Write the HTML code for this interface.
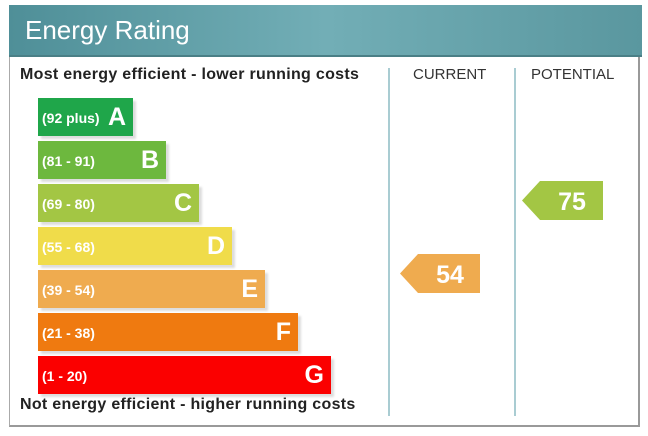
<!DOCTYPE html>
<html><head><style>
body{margin:0;width:648px;height:436px;background:#fff;font-family:"Liberation Sans",Arial,sans-serif;position:relative;overflow:hidden}
.box{position:absolute;left:9px;top:5px;width:631px;height:422px;border:1px solid #aaa;border-right:2px solid #999;border-bottom:2px solid #999;box-sizing:border-box}
.hdr{position:absolute;left:9px;top:5px;width:633px;height:50px;background:linear-gradient(90deg,#4f8f98,#72aeb6 50%,#5a979f);border-bottom:2px solid #4a7f86}
.hdr span{position:absolute;left:16px;top:10px;color:#fff;font-size:26px}
.t{position:absolute;font-size:16px;font-weight:bold;color:#222;letter-spacing:0.3px}
.c{position:absolute;font-size:15px;color:#333}
.v{position:absolute;top:68px;width:2px;height:348px;background:#a9ccd2}
.bar{position:absolute;left:38px;height:38px;box-shadow:3px 3px 2px #ddd;color:#fff}
.bar i{font-style:normal;position:absolute;left:4px;top:12px;font-size:14px;font-weight:bold}
.bar b{position:absolute;right:7px;top:5px;font-size:25px;font-weight:bold}
</style></head><body>
<div class="box"></div>
<div class="hdr"><span>Energy Rating</span></div>
<div class="t" style="left:20px;top:66px">Most energy efficient - lower running costs</div>
<div class="t" style="left:20px;top:396px">Not energy efficient - higher running costs</div>
<div class="c" style="left:413px;top:66px">CURRENT</div>
<div class="c" style="left:531px;top:66px">POTENTIAL</div>
<div class="v" style="left:388px"></div>
<div class="v" style="left:514px"></div>
<div class="bar" style="top:98px;width:95px;background:#1fa64a"><i>(92 plus)</i><b>A</b></div>
<div class="bar" style="top:141px;width:128px;background:#6db83e"><i>(81 - 91)</i><b>B</b></div>
<div class="bar" style="top:184px;width:161px;background:#a3c644"><i>(69 - 80)</i><b>C</b></div>
<div class="bar" style="top:227px;width:194px;background:#f0dc4a"><i>(55 - 68)</i><b>D</b></div>
<div class="bar" style="top:270px;width:227px;background:#efab4f"><i>(39 - 54)</i><b>E</b></div>
<div class="bar" style="top:313px;width:260px;background:#ef7a10"><i>(21 - 38)</i><b>F</b></div>
<div class="bar" style="top:356px;width:293px;background:#fb0000"><i>(1 - 20)</i><b>G</b></div>
<svg style="position:absolute;left:400px;top:254px" width="80" height="39"><polygon points="0,19.5 18,0 80,0 80,39 18,39" fill="#efab4f"/><text x="50" y="29" text-anchor="middle" fill="#fff" font-size="25" font-weight="bold" font-family="Liberation Sans">54</text></svg>
<svg style="position:absolute;left:522px;top:181px" width="81" height="39"><polygon points="0,19.5 18,0 81,0 81,39 18,39" fill="#a3c644"/><text x="50" y="29" text-anchor="middle" fill="#fff" font-size="25" font-weight="bold" font-family="Liberation Sans">75</text></svg>
</body></html>
